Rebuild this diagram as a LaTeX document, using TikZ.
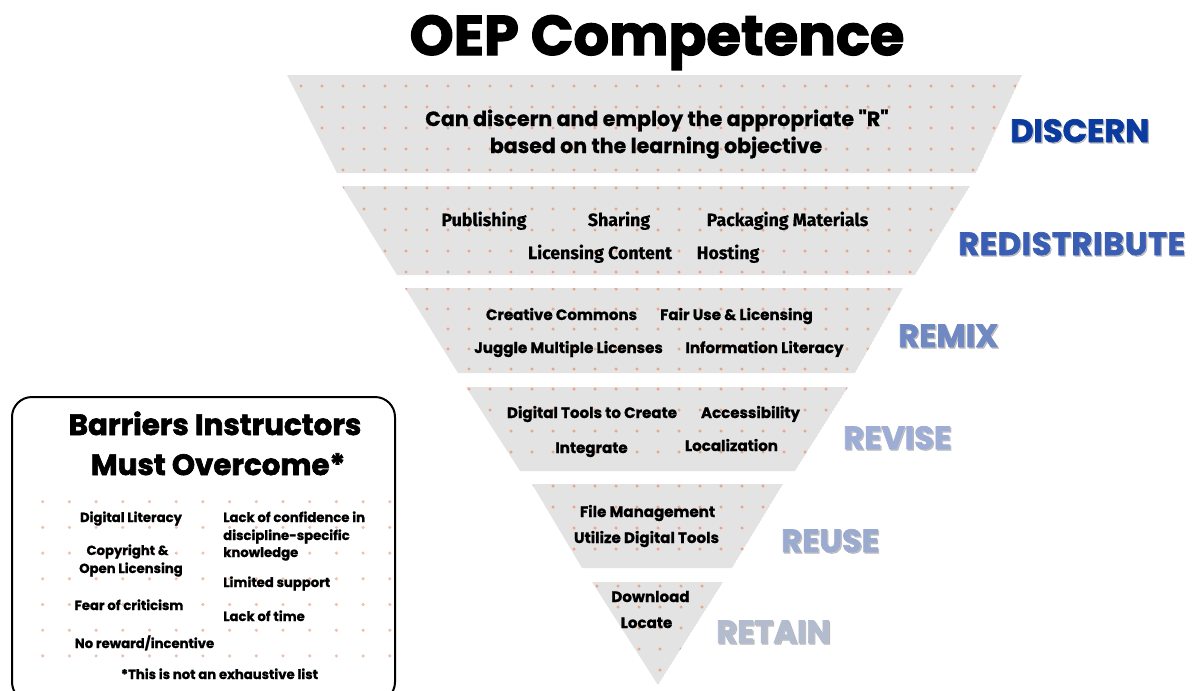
\documentclass[tikz,border=0pt]{standalone}
\usepackage{fontspec}
\setmainfont{Poppins}[BoldFeatures={FakeBold=1}]
\newfontfamily\heavy{Poppins}[BoldFeatures={FakeBold=2.2}]
\newfontfamily\fira{Fira Sans}[BoldFeatures={FakeBold=0.6}]
\newcommand\dq{\XeTeXglyph\XeTeXglyphindex "quotedbl"\relax}
\definecolor{bandgray}{HTML}{E3E3E3}
\definecolor{dotc}{HTML}{E9A688}
\definecolor{boxdot}{HTML}{F2BFA9}
\definecolor{cDiscern}{HTML}{0B3B9E}
\definecolor{cRedis}{HTML}{3A5EB4}
\definecolor{cRemix}{HTML}{7189C3}
\definecolor{cRevise}{HTML}{9DADD5}
\definecolor{cReuse}{HTML}{9BABD0}
\definecolor{cRetain}{HTML}{B3BBCF}
\tikzset{
  band/.style={fill=bandgray},
  item/.style={anchor=base, inner sep=0pt, font=\fontsize{11.3}{13}\selectfont\bfseries, text=black},
  itemf/.style={anchor=base, inner sep=0pt, font=\fontsize{13.3}{15}\selectfont\fira\bfseries, text=black},
  boxitem/.style={anchor=base, inner sep=0pt, font=\fontsize{9.9}{11}\selectfont\bfseries, text=black},
  rlabel/.style={anchor=base west, inner sep=0pt, font=\fontsize{24}{26}\selectfont\heavy\bfseries},
  rshadow/.style={rlabel, text=black!40, opacity=0.55},
}
\newcommand\rlab[5]{% name, x, y, color, text
  \node[rshadow] (#1s) at (#2+1.3,#3+1.3) {#5};
  \node[rlabel, text=#4] (#1) at (#2,#3) {#5};}
\begin{document}
\begin{tikzpicture}[x=0.75pt,y=-0.75pt]
\useasboundingbox (0,0) rectangle (1195,690);
\fill[white] (0,0) rectangle (1195,690);

% title
\node[anchor=base, inner sep=0pt, font=\fontsize{42}{48}\selectfont\heavy\bfseries] (title) at (657,55) {OEP Competence};

% bands
\begin{scope}
\clip (287,75) -- (1022,75) -- (976,173) -- (337,173) -- cycle;
\fill[band] (287,75) -- (1022,75) -- (976,173) -- (337,173) -- cycle;
\foreach \yy in {86,107,...,171}{\foreach \xx in {301,322,...,1020}{\fill[dotc] (\xx,\yy) circle[radius=1.3pt];}}
\end{scope}
\begin{scope}
\clip (342,186) -- (970,186) -- (915,275) -- (397,275) -- cycle;
\fill[band] (342,186) -- (970,186) -- (915,275) -- (397,275) -- cycle;
\foreach \yy in {188,209,...,275}{\foreach \xx in {343,364,...,970}{\fill[dotc] (\xx,\yy) circle[radius=1.3pt];}}
\end{scope}
\begin{scope}
\clip (405,288) -- (903,288) -- (855,373) -- (458,373) -- cycle;
\fill[band] (405,288) -- (903,288) -- (855,373) -- (458,373) -- cycle;
\foreach \yy in {289,309,...,373}{\foreach \xx in {406,427,...,903}{\fill[dotc] (\xx,\yy) circle[radius=1.3pt];}}
\end{scope}
\begin{scope}
\clip (466,387) -- (848,387) -- (795,471) -- (520,471) -- cycle;
\fill[band] (466,387) -- (848,387) -- (795,471) -- (520,471) -- cycle;
\foreach \yy in {389,410,...,471}{\foreach \xx in {469,490,...,848}{\fill[dotc] (\xx,\yy) circle[radius=1.3pt];}}
\end{scope}
\begin{scope}
\clip (532,484) -- (783,484) -- (732,568) -- (582,568) -- cycle;
\fill[band] (532,484) -- (783,484) -- (732,568) -- (582,568) -- cycle;
\foreach \yy in {486,507,...,568}{\foreach \xx in {532,553,...,783}{\fill[dotc] (\xx,\yy) circle[radius=1.3pt];}}
\end{scope}
\begin{scope}
\clip (592,582) -- (723,582) -- (658,685) -- cycle;
\fill[band] (592,582) -- (723,582) -- (658,685) -- cycle;
\foreach \yy in {586,607,...,685}{\foreach \xx in {597,618,...,723}{\fill[dotc] (\xx,\yy) circle[radius=1.3pt];}}
\end{scope}

% band texts
\node[anchor=base, inner sep=0pt, font=\fontsize{15.4}{17}\selectfont\bfseries] (d1) at (657,126) {Can discern and employ the appropriate \dq R\dq};
\node[anchor=base, inner sep=0pt, font=\fontsize{15.4}{17}\selectfont\bfseries] (d2) at (656,153) {based on the learning objective};

\node[itemf] (r1) at (484,226) {Publishing};
\node[itemf] (r2) at (619,226) {Sharing};
\node[itemf] (r3) at (787.5,226) {Packaging Materials};
\node[itemf] (r4) at (600,259) {Licensing Content};
\node[itemf] (r5) at (728,259) {Hosting};

\node[item] (m1) at (561.5,320) {Creative Commons};
\node[item] (m2) at (736.5,320) {Fair Use \& Licensing};
\node[item] (m3) at (568.5,353) {Juggle Multiple Licenses};
\node[item] (m4) at (764.5,353) {Information Literacy};

\node[item] (v1) at (592,418) {Digital Tools to Create};
\node[item] (v2) at (750.5,418) {Accessibility};
\node[item] (v3) at (591.5,453) {Integrate};
\node[item] (v4) at (731.5,451) {Localization};

\node[item] (u1) at (647.5,517) {File Management};
\node[item] (u2) at (646.5,543) {Utilize Digital Tools};

\node[item] (t1) at (650.5,602) {Download};
\node[item] (t2) at (646.5,628) {Locate};

% right labels
\rlab{lDiscern}{1010}{142}{cDiscern}{DISCERN}
\rlab{lRedis}{958}{255}{cRedis}{\addfontfeature{LetterSpace=2}REDISTRIBUTE}
\rlab{lRemix}{898}{347}{cRemix}{REMIX}
\rlab{lRevise}{843}{449}{cRevise}{REVISE}
\rlab{lReuse}{781}{552}{cReuse}{REUSE}
\rlab{lRetain}{716}{643}{cRetain}{RETAIN}

% barriers box
\foreach \j in {0,...,6}{\foreach \i in {0,...,13}{\fill[boxdot] (42.7+26.7*\i,501.7+25.7*\j) circle[radius=1.3pt];}}
\draw[line width=1.5pt, rounded corners=15pt] (12,397) rectangle (395,702);
\node[anchor=base, inner sep=0pt, font=\fontsize{22}{24}\selectfont\heavy\bfseries] (b1) at (215,435) {Barriers Instructors};
\node[anchor=base, inner sep=0pt, font=\fontsize{22}{24}\selectfont\heavy\bfseries] (b2) at (218,475) {Must Overcome*};

\node[boxitem] (k1) at (131,522) {Digital Literacy};
\node[boxitem] (k2) at (127.5,555) {Copyright \&};
\node[boxitem] (k3) at (131,573) {Open Licensing};
\node[boxitem] (k4) at (129,610) {Fear of criticism};
\node[boxitem] (k5) at (144.5,648) {No reward/incentive};
\node[boxitem, anchor=base west] (k6) at (223,522) {Lack of confidence in};
\node[boxitem, anchor=base west] (k7) at (223,540) {discipline-specific};
\node[boxitem, anchor=base west] (k8) at (223,557) {knowledge};
\node[boxitem, anchor=base west] (k9) at (223,587) {Limited support};
\node[boxitem, anchor=base west] (k10) at (223,621) {Lack of time};
\node[boxitem] (k11) at (219.5,679) {*This is not an exhaustive list};
\end{tikzpicture}
\end{document}
